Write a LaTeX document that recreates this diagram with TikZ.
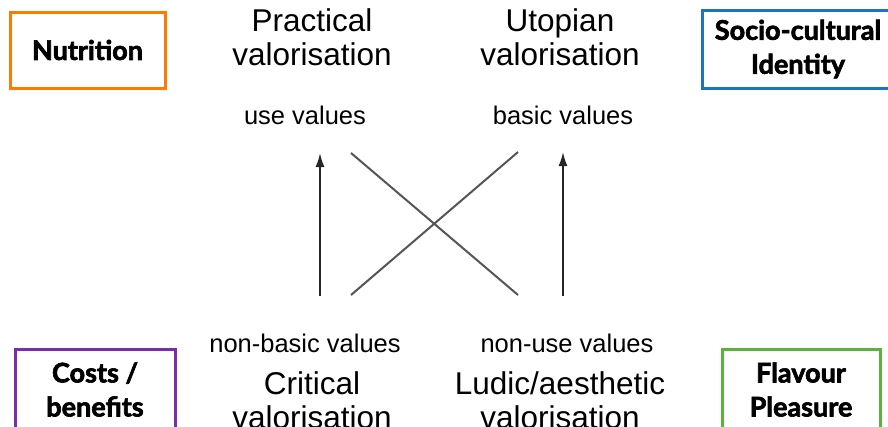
\documentclass[tikz,border=0pt]{standalone}
\usepackage{fontspec}
\setmainfont{Liberation Sans}
\newfontfamily\boxfont[BoldFeatures={FakeBold=2.4}]{Lato}
\usetikzlibrary{arrows, arrows.meta, shapes, positioning}

\definecolor{nutri}{HTML}{FF7A00}
\definecolor{socio}{HTML}{1E73BE}
\definecolor{costs}{HTML}{7A2BAE}
\definecolor{flav}{HTML}{5CB23A}
\definecolor{xline}{HTML}{555555}

\tikzset{
  facet/.style={draw, line width=3pt, align=center, inner sep=0pt,
    font=\boxfont\bfseries\fontsize{27}{34}\selectfont},
  value/.style={font=\fontsize{25.5}{30}\selectfont},
  mode/.style={align=center, font=\fontsize{31.5}{34}\selectfont},
}

\begin{document}
\begin{tikzpicture}[x=1pt, y=-1pt]
      \useasboundingbox (0,0) rectangle (888,426);

      % Boxes
      \node[facet, draw=nutri, minimum width=155, minimum height=76] (nut) at (87.5, 50) {Nutrition};
      \node[facet, draw=socio, minimum width=192, minimum height=78] (soc) at (798, 49) {Socio-cultural\\Identity};
      \node[facet, draw=costs, minimum width=160, minimum height=80, anchor=north] (cos) at (95, 348) {Costs /\\benefits};
      \node[facet, draw=flav, minimum width=158, minimum height=80, anchor=north] (fla) at (801, 348) {Flavour\\Pleasure};

      % Nodes
      \node[mode] (prac) at (312, 37) {Practical\\valorisation};
      \node[mode] (utop) at (560, 37) {Utopian\\valorisation};
      \node[mode] (crit) at (312, 400) {Critical\\valorisation};
      \node[mode] (ludi) at (560, 400) {Ludic/aesthetic\\valorisation};

      \node[value] (use) at (305, 115) {use values};
      \node[value] (bas) at (563, 115) {basic values};
      \node[value] (nba) at (305, 343) {non-basic values};
      \node[value] (nus) at (567, 343) {non-use values};

      \coordinate (a1) at (320, 296);
      \coordinate (b1) at (320, 153);
      \coordinate (a2) at (563, 296);
      \coordinate (b2) at (563, 152);
      \coordinate (x1) at (351, 153);
      \coordinate (x2) at (518, 295);
      \coordinate (x3) at (351, 295);
      \coordinate (x4) at (518, 152);

      % Edges
      \path[-{Latex[length=14pt, width=9pt]}, line width=1.8pt, black!85] (a1) edge (b1)
                (a2) edge (b2);
      \path[line width=2pt, xline] (x1) edge (x2)
                (x3) edge (x4);

    \end{tikzpicture}
\end{document}
